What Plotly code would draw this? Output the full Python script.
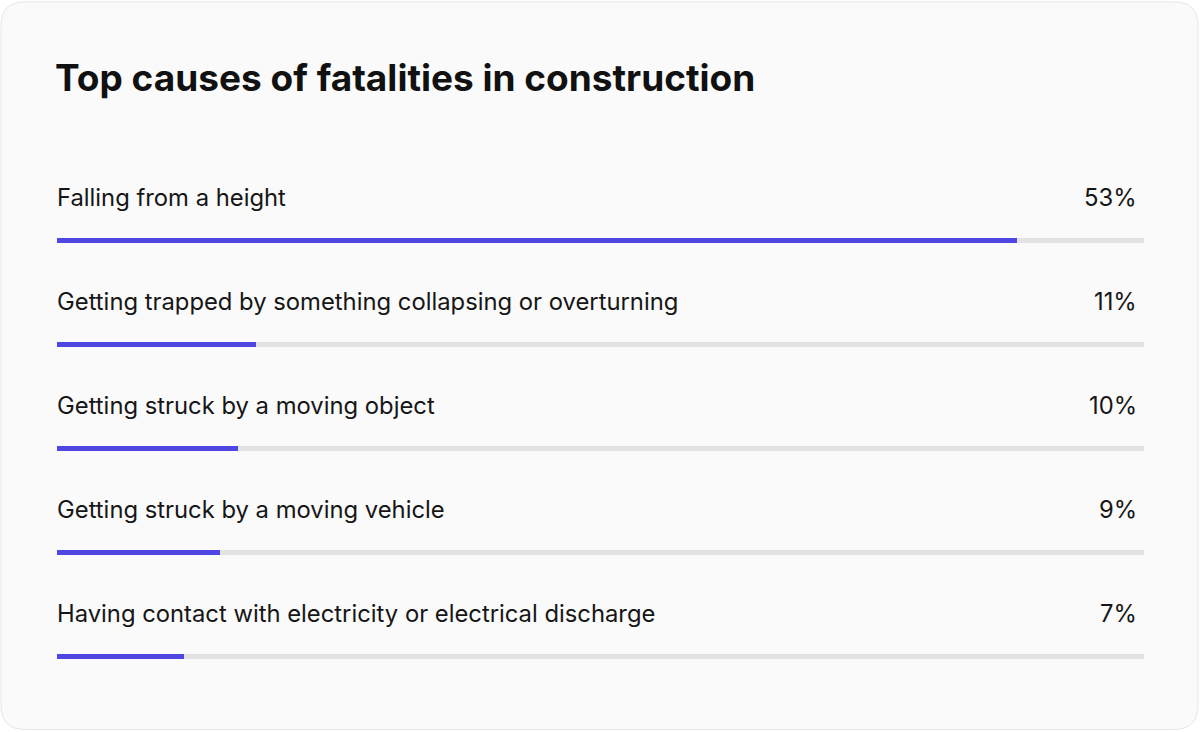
import plotly.graph_objects as go

categories = [
    "Falling from a height",
    "Getting trapped by something collapsing or overturning",
    "Getting struck by a moving object",
    "Getting struck by a moving vehicle",
    "Having contact with electricity or electrical discharge",
]
values = [53, 11, 10, 9, 7]
value_labels = ["53%", "11%", "10%", "9%", "7%"]
scale_max = 60
title_text = "Top causes of fatalities in construction"

W, H = 1200, 732
PLOT_L, PLOT_R = 57, 1144
ROW0, ROW_STEP = 240.5, 104
n = len(categories)
PLOT_T = ROW0 - ROW_STEP / 2
PLOT_B = PLOT_T + ROW_STEP * n

ML = PLOT_L
MR = W - PLOT_R
MT = PLOT_T
MB = H - PLOT_B
PW = W - ML - MR
PH = H - MT - MB

def px_to_paper_x(px):
    return (px - ML) / PW

def px_to_paper_y(py):
    return (H - MB - py) / PH

bar_w = 5 / ROW_STEP
FONT = "Inter, Roboto, sans-serif"

fig = go.Figure()
fig.add_trace(go.Bar(
    y=categories, x=[scale_max] * n, orientation="h",
    marker=dict(color="#e2e2e2", line=dict(width=0)), width=bar_w,
    hoverinfo="skip", showlegend=False,
))
fig.add_trace(go.Bar(
    y=categories, x=values, orientation="h",
    marker=dict(color="#5046e4", line=dict(width=0)), width=bar_w,
    hoverinfo="skip", showlegend=False,
))

annotations = []
for cat, lab in zip(categories, value_labels):
    annotations.append(dict(
        x=0, xref="paper", y=cat, yref="y", text=cat, showarrow=False,
        xanchor="left", yanchor="middle", yshift=43, xshift=-2,
        font=dict(family=FONT, size=23.8, color="#161616"),
    ))
    annotations.append(dict(
        x=px_to_paper_x(1139), xref="paper", y=cat, yref="y", text=lab, showarrow=False,
        xanchor="right", yanchor="middle", yshift=43,
        font=dict(family=FONT, size=23.8, color="#161616"),
    ))

# card background (rounded rectangle)
x0, x1 = px_to_paper_x(1), px_to_paper_x(1198)
y0, y1 = px_to_paper_y(730), px_to_paper_y(1)
rx = 24 / PW
ry = 24 / PH
path = (
    f"M {x0+rx},{y1} L {x1-rx},{y1} Q {x1},{y1} {x1},{y1-ry} "
    f"L {x1},{y0+ry} Q {x1},{y0} {x1-rx},{y0} "
    f"L {x0+rx},{y0} Q {x0},{y0} {x0},{y0+ry} "
    f"L {x0},{y1-ry} Q {x0},{y1} {x0+rx},{y1} Z"
)

fig.update_layout(
    width=W, height=H,
    margin=dict(l=ML, r=MR, t=MT, b=MB),
    paper_bgcolor="#ffffff", plot_bgcolor="rgba(0,0,0,0)",
    barmode="overlay", bargap=0,
    title=dict(
        text=title_text, xref="container", x=55 / W, xanchor="left",
        yref="container", y=1 - 78 / H, yanchor="middle",
        font=dict(family=FONT, size=37, color="#111111", weight=700),
    ),
    xaxis=dict(range=[0, scale_max], visible=False, fixedrange=True),
    yaxis=dict(categoryorder="array", categoryarray=categories,
               range=[n - 0.5, -0.5], visible=False, fixedrange=True),
    annotations=annotations,
    shapes=[dict(type="path", path=path, xref="paper", yref="paper",
                 fillcolor="#fafafa", line=dict(color="#e6e6e6", width=1), layer="below")],
    showlegend=False,
)

fig.write_html(
    "out.html",
    config={"displayModeBar": False},
    post_script="document.body.style.margin='0';document.body.style.overflow='hidden';",
)
